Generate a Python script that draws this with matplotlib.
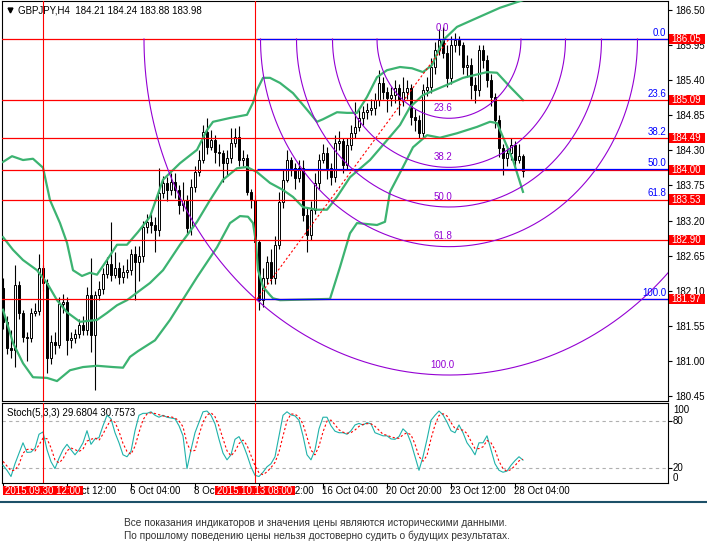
import numpy as np
import matplotlib
matplotlib.use("Agg")
import matplotlib.pyplot as plt
from matplotlib.patches import Rectangle
from matplotlib.lines import Line2D
import matplotlib.transforms as mtrans

plt.rcParams['font.family'] = ['Liberation Sans', 'DejaVu Sans']

# ---- data (bar index 0..130, H4 bars) ----
first_open = 182.14
closes = [181.61, 181.20, 181.17, 182.19, 181.75, 181.37, 181.36, 181.75, 181.78, 182.45,
          182.22, 181.04, 181.29, 181.25, 181.89, 181.92, 181.33, 181.36, 181.42, 181.56,
          181.48, 182.03, 181.40, 182.03, 182.12, 182.36, 182.52, 182.35, 182.46, 182.31,
          182.39, 182.42, 182.67, 182.55, 182.64, 183.10, 183.18, 183.13, 183.05, 183.63,
          183.79, 183.68, 183.80, 183.68, 183.44, 183.52, 183.08, 183.73, 183.96, 184.15,
          184.59, 184.35, 184.46, 184.28, 184.26, 184.10, 184.18, 184.42, 184.51, 184.15,
          184.18, 183.65, 183.52, 182.86, 181.95, 182.30, 182.55, 182.30, 182.82, 183.49,
          183.84, 184.15, 184.02, 183.87, 184.02, 183.29, 182.97, 183.37, 183.79, 184.15,
          184.26, 184.02, 183.88, 184.42, 184.45, 184.07, 184.39, 184.57, 184.67, 184.81,
          184.90, 184.94, 184.97, 185.09, 185.36, 185.22, 185.12, 185.17, 185.28, 185.09,
          185.22, 185.28, 184.83, 184.78, 184.57, 185.25, 185.30, 185.61, 185.88, 186.03,
          185.83, 185.44, 185.96, 186.03, 185.96, 185.61, 185.64, 185.33, 185.25, 185.88,
          185.72, 185.41, 185.14, 184.78, 184.34, 184.18, 184.26, 184.39, 184.15, 184.21,
          183.98]
highs = [182.30, 181.70, 181.48, 182.50, 182.25, 181.80, 181.45, 181.82, 181.90, 182.67,
         182.50, 182.28, 181.40, 181.45, 182.00, 182.05, 182.00, 181.45, 181.50, 181.65,
         181.70, 182.15, 182.61, 182.10, 182.25, 182.45, 182.62, 183.18, 182.70, 182.55,
         182.50, 182.60, 182.75, 182.80, 182.80, 183.20, 183.30, 183.30, 183.25, 184.02,
         183.90, 183.88, 183.95, 183.95, 183.75, 183.80, 183.60, 183.85, 184.05, 184.30,
         184.70, 184.81, 184.62, 184.55, 184.40, 184.30, 184.30, 184.65, 184.65, 184.68,
         184.30, 184.25, 183.70, 183.60, 182.90, 182.45, 182.65, 182.75, 182.95, 183.65,
         184.00, 184.30, 184.20, 184.10, 184.15, 184.15, 183.40, 183.50, 183.95, 184.25,
         184.40, 184.35, 184.10, 184.55, 184.60, 184.50, 184.50, 184.70, 185.06, 184.95,
         185.00, 185.05, 185.10, 185.20, 185.56, 185.45, 185.30, 185.30, 185.40, 185.35,
         185.45, 185.40, 185.35, 184.95, 184.85, 185.35, 185.45, 185.75, 186.00, 186.20,
         186.24, 185.95, 186.10, 186.15, 186.10, 186.00, 185.80, 185.75, 185.45, 185.95,
         185.95, 185.80, 185.50, 185.20, 184.85, 184.40, 184.35, 184.50, 184.45, 184.40,
         184.24]
lows = [181.50, 181.10, 181.04, 180.90, 181.65, 181.30, 181.00, 181.30, 181.70, 181.72,
        182.10, 180.81, 180.95, 181.10, 181.20, 181.75, 181.09, 181.20, 181.28, 181.35,
        181.40, 181.40, 181.14, 180.54, 181.95, 182.05, 182.30, 182.25, 182.30, 182.20,
        182.22, 182.30, 182.35, 181.95, 182.25, 182.55, 183.00, 183.00, 182.70, 182.95,
        183.55, 183.50, 183.60, 183.55, 183.30, 183.35, 182.97, 182.98, 183.65, 183.90,
        184.10, 184.25, 184.30, 184.10, 184.05, 183.80, 183.90, 184.10, 184.35, 184.05,
        184.05, 183.60, 183.40, 182.70, 181.80, 181.85, 182.20, 182.20, 182.20, 182.75,
        183.40, 183.80, 183.90, 183.70, 183.80, 183.20, 182.71, 182.90, 183.30, 183.70,
        184.10, 183.85, 183.75, 183.80, 184.30, 183.95, 184.00, 184.30, 184.50, 184.60,
        184.70, 184.80, 184.85, 184.85, 185.00, 185.10, 184.90, 185.00, 185.05, 184.85,
        185.00, 185.10, 184.70, 184.60, 184.50, 184.50, 185.15, 185.20, 185.50, 185.80,
        185.75, 185.30, 185.35, 185.85, 185.80, 185.50, 185.45, 185.10, 185.05, 185.15,
        185.60, 185.30, 185.00, 184.65, 184.20, 183.91, 184.05, 184.15, 184.05, 184.10,
        183.88]

# Bollinger bands, sampled along the chart (bar index, price)
bb_upper_x = [0, 2.25, 5, 7.5, 10, 11.75, 14.25, 16, 17.5, 19.75, 21.75, 23.5, 26, 28.5, 31,
              33.75, 36.75, 40, 44.25, 48.5, 51, 52.5, 56.75, 61, 62.5, 63.5, 65, 66.75, 69.25,
              72.5, 76, 78.5, 80, 83.5, 86, 88.5, 91, 93.5, 96, 99.25, 102.25, 105, 107.25,
              110, 113.5, 118.5, 124.25, 130]
bb_upper = [184.12, 184.21, 184.15, 184.17, 184.03, 183.52, 183.16, 182.85, 182.42, 182.33,
            182.38, 182.35, 182.58, 182.82, 182.82, 183.02, 183.26, 183.84, 184.10, 184.31,
            184.62, 184.75, 184.81, 184.86, 185.05, 185.25, 185.44, 185.44, 185.36, 185.20,
            184.94, 184.75, 184.79, 184.90, 184.89, 184.89, 185.14, 185.45, 185.56, 185.61,
            185.59, 185.53, 185.64, 186.03, 186.24, 186.38, 186.54, 186.66]
bb_mid_x = [0, 2.5, 5, 8.5, 11, 13.5, 16, 19.25, 23.5, 26, 28.5, 31, 33.75, 36.75, 40, 44.25,
            48.5, 51.75, 55, 58.5, 61, 63.5, 66.75, 70, 72.5, 75, 78.5, 81, 83.5, 86.75, 91.75,
            96, 99.25, 101.75, 105, 111, 115, 121, 123.5, 126.75, 130]
bb_mid = [182.94, 182.74, 182.58, 182.42, 182.22, 181.95, 181.76, 181.61, 181.64, 181.75,
          181.87, 181.95, 182.08, 182.22, 182.42, 182.82, 183.18, 183.52, 183.84, 184.02,
          184.04, 183.96, 183.79, 183.68, 183.57, 183.41, 183.37, 183.37, 183.57, 183.88,
          184.15, 184.46, 184.70, 184.98, 185.17, 185.33, 185.44, 185.53, 185.52, 185.30,
          185.09]
bb_lower_x = [0, 2.5, 5, 7.5, 11, 13.5, 16.75, 20, 23.5, 27.5, 30, 31.75, 33.75, 38, 41.75,
              48.5, 53.5, 56.75, 59.25, 61.25, 62.5, 63.25, 63.75, 65, 66.75, 67.5, 69.25,
              81.75, 84.25, 86.75, 88.5, 93.5, 95.5, 96.75, 100, 102.5, 106, 109.25, 113.5,
              118.5, 121.75, 123.5, 125, 127.5, 130]
bb_lower = [181.80, 181.28, 180.96, 180.74, 180.73, 180.68, 180.85, 180.90, 180.92, 180.90,
            180.89, 181.06, 181.15, 181.32, 181.64, 182.31, 182.78, 183.16, 183.27, 183.26,
            183.16, 182.85, 182.42, 182.16, 182.03, 181.98, 181.95, 181.97, 182.47, 183.00,
            183.16, 183.13, 183.18, 183.65, 184.04, 184.35, 184.54, 184.50, 184.57, 184.67,
            184.75, 184.73, 184.51, 184.15, 183.65]

# Stochastic (5,3,3)
stoch_k = [23, 16.5, 8.5, 25, 38.7, 52, 39.6, 40, 45, 63,
           66, 43, 27.6, 18.7, 32, 43, 50, 43, 36.5, 43,
           52, 67.6, 50, 57, 58.7, 74, 87.5, 83, 65, 52,
           36.5, 34, 41, 67.6, 87.5, 90, 90, 92, 87.5, 85,
           87.5, 85, 84, 83, 74, 61, 18.7, 43, 65, 78.7,
           92, 93, 87.5, 76.5, 56.5, 38.7, 30, 36.5, 56.5, 60,
           50, 36.5, 21, 10, 8.5, 14, 21, 25, 34, 61,
           87.5, 92, 88, 86.7, 81, 61, 36.5, 30, 43, 70,
           85, 85, 74, 67, 65, 65, 63, 67.6, 75, 77,
           75, 78, 76.5, 65, 63, 61, 61, 57, 56.5, 60,
           70, 65, 52, 34, 16.5, 34, 56.5, 81, 87.5, 93,
           88, 78.7, 67.6, 65, 75, 65, 52, 45, 36.5, 52,
           52, 61, 43, 25, 16.5, 14, 15.5, 23, 29, 34,
           29.68]
stoch_d = [28, 22, 16, 16.7, 24, 38.6, 43.4, 43.9, 41.5, 49.3,
           58, 57.3, 45.5, 29.8, 26.1, 31.2, 41.7, 45.3, 43.2, 40.8,
           43.8, 54.2, 56.5, 58.2, 55.2, 63.2, 73.4, 81.5, 78.5, 66.7,
           51.2, 40.8, 37.2, 47.5, 65.4, 81.7, 89.2, 90.7, 89.8, 88.2,
           86.7, 85.8, 85.5, 84, 80.3, 72.7, 51.2, 40.9, 42.2, 62.2,
           78.6, 87.9, 90.8, 85.7, 73.5, 57.2, 41.7, 35.1, 41, 51,
           55.5, 48.8, 35.8, 22.5, 13.2, 10.8, 14.5, 20, 26.7, 40,
           60.8, 80.2, 89.2, 88.9, 85.2, 76.2, 59.5, 42.5, 36.5, 47.7,
           66, 80, 81.3, 75.3, 68.7, 65.7, 64.3, 65.2, 68.5, 73.2,
           75.7, 76.7, 76.5, 73.2, 68.2, 63, 61.7, 59.7, 58.2, 57.8,
           62.2, 65, 62.3, 50.3, 34.2, 28.2, 35.7, 57.2, 75, 87.2,
           89.5, 86.6, 78.1, 70.4, 69.2, 68.3, 64, 54, 44.5, 44.5,
           46.8, 55, 52, 43, 28.2, 18.5, 15.3, 17.5, 22.5, 28.7,
           30.76]

# horizontal levels, fibo objects, vertical lines
h_levels = [186.05, 185.09, 184.49, 184.00, 183.53, 182.90, 181.97]
fib_ret_levels = ["0.0", "23.6", "38.2", "50.0", "61.8", "100.0"]
fib_ret_prices = [186.05, 185.09, 184.49, 184.01, 183.53, 181.97]
fib_ret_blue = [186.05, 184.01, 181.97]
fib_p1 = (63.5, 181.97)
fib_p2 = (111.5, 186.05)
arc_levels = [0.236, 0.382, 0.5, 0.618, 1.0]
arc_labels = ["23.6", "38.2", "50.0", "61.8", "100.0"]
vlines_x = [10, 63]
vlines_txt = ["2015.09.30 12:00", "2015.10.13 08:00"]
price_ticks = [186.50, 185.95, 185.40, 184.85, 184.30, 183.75, 183.20, 182.65, 182.10,
               181.55, 181.00, 180.45]
time_ticks = [0, 16, 32, 48, 64, 80, 96, 112, 128]
time_labels = ["", "1 Oct 12:00", "6 Oct 04:00", "8 Oct 20:00", "13 Oct 12:00",
               "16 Oct 04:00", "20 Oct 20:00", "23 Oct 12:00", "28 Oct 04:00"]

opens = [first_open] + closes[:-1]
n = len(closes)
idx = np.arange(n)

# ---- figure layout in pixels ----
W, H = 707, 552
fig = plt.figure(figsize=(W / 100, H / 100), dpi=100)
fig.patch.set_facecolor('white')


def px_axes(x0, y0, x1, y1):
    return fig.add_axes([x0 / W, 1 - y1 / H, (x1 - x0) / W, (y1 - y0) / H])


ax = px_axes(2, 0.5, 668, 400.5)
ax2 = px_axes(2, 402.5, 668, 482.7)

xlim = (-0.25, 166.25)
ax.set_xlim(*xlim)
ax.set_ylim(180.375, 186.654)
ax2.set_xlim(*xlim)
ax2.set_ylim(0.5, 104)

for a in (ax, ax2):
    for s in a.spines.values():
        s.set_linewidth(0.8)
        s.set_color('black')

# ---- candles ----
up = np.array(closes) >= np.array(opens)
ax.vlines(idx, lows, highs, color='black', lw=0.8, zorder=2)
body_bottom = np.minimum(opens, closes)
body_h = np.abs(np.array(closes) - np.array(opens))
ax.bar(idx, body_h, bottom=body_bottom, width=0.62,
       color=np.where(up, 'white', 'black'), edgecolor='black', linewidth=0.7, zorder=3)

# ---- bollinger bands ----
bb_col = '#3CB371'
ax.plot(bb_upper_x, bb_upper, color=bb_col, lw=1.6, zorder=4)
ax.plot(bb_mid_x, bb_mid, color=bb_col, lw=1.6, zorder=4)
ax.plot(bb_lower_x, bb_lower, color=bb_col, lw=1.6, zorder=4)

# ---- objects ----
for p in h_levels:
    ax.axhline(p, color='red', lw=0.9, zorder=5)
ax.hlines(fib_ret_blue, fib_p1[0], xlim[1], color='blue', lw=0.9, zorder=6)
ax.plot([fib_p1[0], fib_p2[0]], [fib_p1[1], fib_p2[1]], color='red', lw=0.8,
        ls=(0, (2, 2)), zorder=6)

rx = 76.25          # bars for 100% arc
ry = 5.275          # price for 100% arc
th = np.linspace(0, np.pi, 400)
purple = '#9400D3'
for lv in arc_levels:
    ax.plot(fib_p2[0] + rx * lv * np.cos(th), fib_p2[1] - ry * lv * np.sin(th),
            color=purple, lw=0.8, zorder=6)
ax.text(109.9, fib_p2[1] + 0.17, "0.0", color=purple, fontsize=7, ha='center', va='center', zorder=7)
for lv, lab in zip(arc_levels, arc_labels):
    ax.text(109.9, fib_p2[1] - ry * lv + 0.16, lab, color=purple, fontsize=7,
            ha='center', va='center', zorder=7)

tr_y = mtrans.blended_transform_factory(ax.transAxes, ax.transData)
for lab, p in zip(fib_ret_levels, fib_ret_prices):
    ax.text(0.997, p + 0.02, lab, color='blue', fontsize=7, ha='right', va='bottom',
            transform=tr_y, zorder=7)

for a in (ax, ax2):
    for vx in vlines_x:
        a.axvline(vx, color='red', lw=0.8, zorder=6)

# ---- price axis ----
ax.yaxis.tick_right()
ax.set_yticks(price_ticks)
ax.set_yticklabels([f"{p:.2f}" for p in price_ticks])
ax.tick_params(axis='y', direction='out', length=3, width=0.8, pad=2, labelsize=7)
ax.tick_params(axis='x', bottom=False, labelbottom=False)

for p in h_levels:
    ax.add_patch(Rectangle((1.0012, p - 0.079), 0.054, 0.158, transform=tr_y,
                           facecolor='red', edgecolor='none', clip_on=False, zorder=10))
    ax.text(1.0045, p, f"{p:.2f}", transform=tr_y, color='white', fontsize=7,
            ha='left', va='center', clip_on=False, zorder=11)

# header
ax.plot([0.0125], [0.9755], marker='v', ms=3.5, color='black', transform=ax.transAxes,
        clip_on=False)
ax.text(0.024, 0.9755, "GBPJPY,H4  184.21 184.24 183.88 183.98", transform=ax.transAxes,
        fontsize=7, ha='left', va='center')

# ---- stochastic ----
for lv in (20, 80):
    ax2.axhline(lv, color='#B0B0B0', lw=0.8, ls=(0, (3, 3)))
ax2.plot(idx, stoch_k, color='#20B2AA', lw=0.8, zorder=4)
ax2.plot(idx, stoch_d, color='red', lw=0.8, ls=(0, (2, 2)), zorder=4)
ax2.text(0.0075, 0.869, "Stoch(5,3,3) 29.6804 30.7573", transform=ax2.transAxes,
         fontsize=7, ha='left', va='center')

ax2.yaxis.tick_right()
ax2.set_yticks([20, 80])
ax2.set_yticklabels([])
ax2.tick_params(axis='y', direction='out', length=3, width=0.8)
tr2y = mtrans.blended_transform_factory(ax2.transAxes, ax2.transData)
for lab, yv in [("100", 94.3), ("80", 80), ("20", 20), ("0", 6.7)]:
    ax2.text(1.0075, yv, lab, transform=tr2y, fontsize=7, ha='left', va='center')

# time axis
ax2.set_xticks(time_ticks)
ax2.set_xticklabels([])
ax2.tick_params(axis='x', direction='out', length=4, width=0.8)
tr2x = mtrans.blended_transform_factory(ax2.transData, ax2.transAxes)
for t, lab in zip(time_ticks, time_labels):
    if lab:
        ax2.text(t - 0.2, -0.1, lab, transform=tr2x, fontsize=7, ha='left', va='center',
                 clip_on=False)
for vx, lab in zip(vlines_x, vlines_txt):
    ax2.add_patch(Rectangle((vx - 9.9, -0.155), 19.8, 0.115, transform=tr2x,
                            facecolor='red', edgecolor='none', clip_on=False, zorder=10))
    ax2.text(vx, -0.098, lab, transform=tr2x, fontsize=7, color='white', ha='center',
             va='center', clip_on=False, zorder=11)

# separator + disclaimer
fig.add_artist(Line2D([0, 1], [1 - 502.3 / H] * 2, color='#1d5068', lw=1.5))
fig.text(124 / W, 1 - 523.3 / H,
         "Все показания индикаторов и значения цены являются историческими данными.",
         fontsize=7.3, color='#333333', ha='left', va='center')
fig.text(124 / W, 1 - 535.5 / H,
         "По прошлому поведению цены нельзя достоверно судить о будущих результатах.",
         fontsize=7.3, color='#333333', ha='left', va='center')

fig.savefig("out.png", dpi=100, facecolor='white')
